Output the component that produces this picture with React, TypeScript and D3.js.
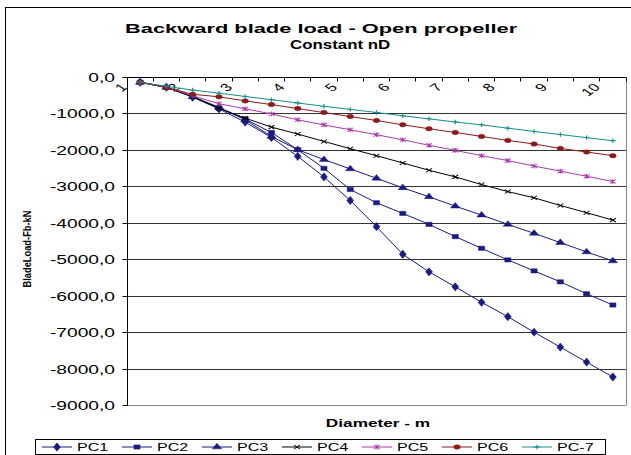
import React from "react";
import * as d3 from "d3";

const categories = ["1","1,5","2","2,5","3","3,5","4","4,5","5","5,5","6","6,5","7","7,5","8","8,5","9","9,5","10"];
const shownLabels = ["1","2","3","4","5","6","7","8","9","10"];
const yTicks = [0,-1000,-2000,-3000,-4000,-5000,-6000,-7000,-8000,-9000];

const pc1 = [-131,-268,-541,-861,-1224,-1645,-2164,-2727,-3374,-4093,-4850,-5333,-5743,-6169,-6563,-6989,-7399,-7809,-8219];
const pc2 = [-131,-268,-525,-842,-1142,-1508,-1981,-2492,-3074,-3437,-3730,-4030,-4366,-4686,-5005,-5306,-5607,-5934,-6243];
const pc3 = [-131,-268,-525,-814,-1161,-1617,-1981,-2254,-2508,-2765,-3027,-3273,-3530,-3776,-4030,-4276,-4530,-4787,-5033];
const pc4 = [-131,-268,-525,-842,-1115,-1361,-1552,-1754,-1954,-2145,-2344,-2546,-2727,-2937,-3130,-3301,-3511,-3710,-3913];
const pc5 = [-131,-270,-500,-720,-860,-1000,-1160,-1300,-1435,-1570,-1710,-1860,-2000,-2145,-2280,-2430,-2570,-2710,-2855];
const pc6 = [-125,-275,-460,-530,-642,-743,-852,-962,-1071,-1180,-1298,-1407,-1508,-1617,-1727,-1825,-1945,-2044,-2145];
const pc7 = [-131,-240,-345,-430,-520,-610,-700,-790,-875,-960,-1050,-1135,-1220,-1300,-1390,-1480,-1565,-1650,-1735];

const seriesNames = ["PC1","PC2","PC3","PC4","PC5","PC6","PC-7"];
const seriesValues = [pc1,pc2,pc3,pc4,pc5,pc6,pc7];
const seriesColors = ["#1a1a80","#1a1a80","#1a1a80","#000000","#a83ca8","#8b1a1a","#1a8c8c"];
const seriesMarkers = ["diamond","square","triangle","times","asterisk","circle","plus"];

const FONT = "'Liberation Sans', Arial, Helvetica, sans-serif";

const timesType = { draw(ctx: any, size: number) { const r = Math.sqrt(size) / 2; ctx.moveTo(-r,-r); ctx.lineTo(r,r); ctx.moveTo(r,-r); ctx.lineTo(-r,r); } };
const plusType = { draw(ctx: any, size: number) { const r = Math.sqrt(size) / 2; ctx.moveTo(-r,0); ctx.lineTo(r,0); ctx.moveTo(0,-r); ctx.lineTo(0,r); } };
const asteriskType = { draw(ctx: any, size: number) { const r = Math.sqrt(size) / 2; ctx.moveTo(-r,-r); ctx.lineTo(r,r); ctx.moveTo(r,-r); ctx.lineTo(-r,r); ctx.moveTo(0,-r*1.2); ctx.lineTo(0,r*1.2); } };

function markerPath(kind: string) {
  switch (kind) {
    case "diamond": return d3.symbol().type(d3.symbolDiamond).size(20)() as string;
    case "square": return d3.symbol().type(d3.symbolSquare).size(18)() as string;
    case "triangle": return d3.symbol().type(d3.symbolTriangle).size(18)() as string;
    case "circle": return d3.symbol().type(d3.symbolCircle).size(16)() as string;
    case "times": return d3.symbol().type(timesType as any).size(16)() as string;
    case "asterisk": return d3.symbol().type(asteriskType as any).size(16)() as string;
    default: return d3.symbol().type(plusType as any).size(20)() as string;
  }
}
const isStroke = (k: string) => k === "times" || k === "asterisk" || k === "plus";

function Marker({ kind, color, x, y }: any) {
  const stroke = isStroke(kind);
  return (
    <path
      d={markerPath(kind)}
      transform={`translate(${x},${y}) scale(1.45,1)`}
      fill={stroke ? "none" : color}
      stroke={color}
      strokeWidth={stroke ? 0.8 : 0.4}
    />
  );
}

function T({ x, y, sx = 1.55, size = 12, weight = "normal", anchor = "start", rot, children, len }: any) {
  const tr = `translate(${x},${y}) scale(${sx},1)` + (rot ? ` rotate(${rot})` : "");
  return (
    <text transform={tr} fontSize={size} fontWeight={weight} textAnchor={anchor} fontFamily={FONT} fill="#000"
      {...(len ? { textLength: len, lengthAdjust: "spacingAndGlyphs" } : {})}>
      {children}
    </text>
  );
}

export default function App() {
  const W = 631, H = 455;
  const left = 127, right = 626, top = 77.5, bottom = 405.5;
  const x = d3.scaleBand().domain(categories).range([left, right]).padding(0);
  const y = d3.scaleLinear().domain([0, -9000]).range([top, bottom]);
  const cx = (i: number) => (x(categories[i]) as number) + x.bandwidth() / 2;
  const line = d3.line<number>().x((_, i) => cx(i)).y((v) => y(v));
  const snap = (v: number) => Math.round(v - 0.5) + 0.5;

  return (
    <svg width={W} height={H} style={{ position: "absolute", left: 0, top: 0, background: "#fff" }}>
      <rect x={0} y={0} width={W} height={H} fill="#fff" />
      <rect x={5.5} y={7.5} width={700} height={600} fill="none" stroke="#000" strokeWidth={1} />

      <T x={125} y={32.5} size={13.5} weight="bold" sx={1.62}>Backward blade load - Open propeller</T>
      <T x={290} y={49} size={13.5} weight="bold" sx={1.25}>Constant nD</T>

      {/* gridlines */}
      {yTicks.slice(1).map((t) => (
        <line key={t} x1={left} x2={right} y1={snap(y(t))} y2={snap(y(t))} stroke={t === -9000 ? "#888" : "#333"} strokeWidth={1} />
      ))}
      <line x1={snap(right)} x2={snap(right)} y1={top} y2={snap(y(-9000))} stroke="#888" />

      {/* y axis */}
      <line x1={snap(left)} x2={snap(left)} y1={snap(top)} y2={snap(y(-9000))} stroke="#000" />
      {yTicks.map((t) => (
        <g key={"yt" + t}>
          <line x1={snap(left) - 5} x2={snap(left)} y1={snap(y(t))} y2={snap(y(t))} stroke="#000" />
          <T x={115} y={y(t) + 4.5} size={12} sx={1.6} anchor="end">{d3.format(".1f")(t).replace(".", ",").replace("−", "-")}</T>
        </g>
      ))}

      {/* x axis on top */}
      <line x1={snap(left)} x2={right} y1={snap(top)} y2={snap(top)} stroke="#000" />
      {categories.map((c, i) => (
        <line key={"xt" + i} x1={snap(x(c) as number)} x2={snap(x(c) as number)} y1={snap(top)} y2={snap(top) + 4} stroke="#000" />
      ))}
      <line x1={snap(right)} x2={snap(right)} y1={snap(top)} y2={snap(top) + 4} stroke="#000" />
      {categories.map((c, i) => shownLabels.includes(c) ? (
        <T key={"xl" + i} x={cx(i) - 12} y={88} size={11} sx={1.5} anchor="end" rot={-45}>{c}</T>
      ) : null)}

      {/* series */}
      {seriesValues.map((vals, s) => (
        <g key={"s" + s}>
          <path d={line(vals) as string} fill="none" stroke={seriesColors[s]} strokeWidth={1} />
          {vals.map((v, i) => (
            <Marker key={i} kind={seriesMarkers[s]} color={seriesColors[s]} x={cx(i)} y={y(v)} />
          ))}
        </g>
      ))}

      {/* axis titles */}
      <T x={378} y={426.5} size={11.5} weight="bold" sx={1.5} anchor="middle">Diameter - m</T>
      <T x={31} y={249} size={9} weight="bold" sx={1.2} anchor="middle" rot={-90} len={77}>BladeLoad-Fb-kN</T>

      {/* legend */}
      <rect x={35.5} y={439.5} width={570} height={15} fill="#fff" stroke="#000" />
      {seriesNames.map((n, s) => {
        const lx = 42 + 80 * s;
        return (
          <g key={"lg" + s}>
            <line x1={lx} x2={lx + 30} y1={447} y2={447} stroke={seriesColors[s]} strokeWidth={1} />
            <Marker kind={seriesMarkers[s]} color={seriesColors[s]} x={lx + 15} y={447} />
            <T x={lx + 35} y={451} size={11.5} sx={1.4}>{n}</T>
          </g>
        );
      })}
    </svg>
  );
}
